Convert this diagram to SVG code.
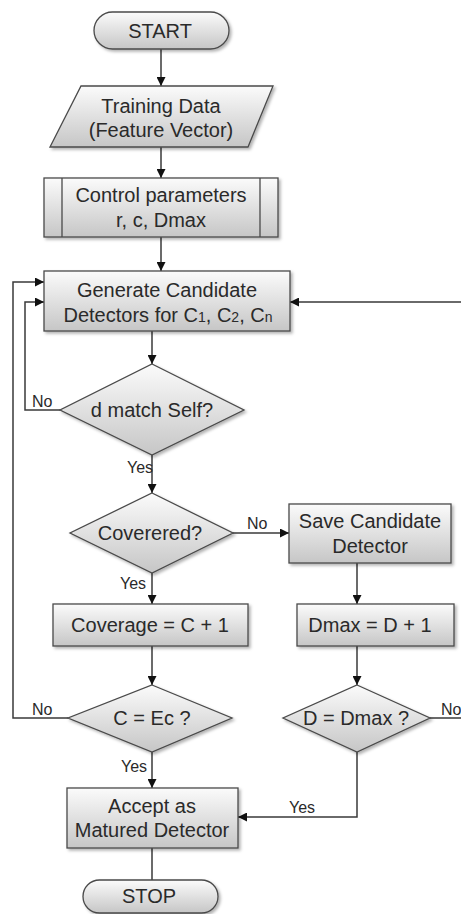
<svg xmlns="http://www.w3.org/2000/svg" width="461" height="914" viewBox="0 0 461 914">
<defs>
<linearGradient id="g" x1="0" y1="0" x2="0" y2="1">
<stop offset="0" stop-color="#fbfbfb"/>
<stop offset="1" stop-color="#c6c6c6"/>
</linearGradient>
<filter id="sh" x="-10%" y="-10%" width="125%" height="130%">
<feDropShadow dx="2" dy="2" stdDeviation="1.5" flood-color="#000" flood-opacity="0.3"/>
</filter>
<marker id="ah" viewBox="0 0 10 10" refX="10" refY="5" markerWidth="9" markerHeight="9" markerUnits="userSpaceOnUse" orient="auto">
<path d="M0,0 L10,5 L0,10 z" fill="#111"/>
</marker>
<style>
.s{fill:url(#g);stroke:#4a4a4a;stroke-width:1.3;filter:url(#sh)}
.il{fill:none;stroke:#4a4a4a;stroke-width:1.3}
.t{font-family:"Liberation Sans",Arial,sans-serif;font-size:20px;fill:#2a2a2a;text-anchor:middle}
.l{font-family:"Liberation Sans",Arial,sans-serif;font-size:16px;fill:#2a2a2a}
.c{fill:none;stroke:#3a3a3a;stroke-width:1.5}
.a{marker-end:url(#ah)}
.sub{font-size:14px}
</style>
</defs>
<rect width="461" height="914" fill="#fff"/>

<g id="connectors">
<path class="c a" d="M161,49 V86"/>
<path class="c a" d="M161,147 V178"/>
<path class="c a" d="M161,237 V271"/>
<path class="c a" d="M152,331 V364"/>
<path class="c a" d="M60,410 H25 V302 H44"/>
<path class="c a" d="M152,455 V493"/>
<path class="c a" d="M233,533 H289"/>
<path class="c a" d="M152,573 V604"/>
<path class="c a" d="M357,563 V604"/>
<path class="c a" d="M152,646 V685"/>
<path class="c a" d="M357,646 V685"/>
<path class="c a" d="M68,718 H13 V282 H44"/>
<path class="c a" d="M430,718 H470 V302 H290"/>
<path class="c a" d="M152,752 V788"/>
<path class="c a" d="M357,752 V817 H238"/>
<path class="c" d="M152,848 V880"/>
<text class="l" x="32" y="407">No</text>
<text class="l" x="127" y="473">Yes</text>
<text class="l" x="247" y="529">No</text>
<text class="l" x="120" y="589">Yes</text>
<text class="l" x="32" y="715">No</text>
<text class="l" x="441" y="715">No</text>
<text class="l" x="121" y="772">Yes</text>
<text class="l" x="289" y="813">Yes</text>
</g>

<g id="start">
<rect class="s" x="94" y="12" width="135" height="37" rx="18.5"/>
<text class="t" x="160" y="38">START</text>
</g>

<g id="training">
<polygon class="s" points="81,86 273,86 248,147 50,147"/>
<text class="t" x="161" y="113">Training Data</text>
<text class="t" x="161" y="137">(Feature Vector)</text>
</g>

<g id="control">
<rect class="s" x="44" y="178" width="234" height="59"/>
<path class="il" d="M62,178 V237 M260,178 V237"/>
<text class="t" x="161" y="202">Control parameters</text>
<text class="t" x="161" y="227">r, c, Dmax</text>
</g>

<g id="generate">
<rect class="s" x="44" y="271" width="246" height="60"/>
<text class="t" x="167" y="297">Generate Candidate</text>
<text class="t" x="168" y="322">Detectors for C<tspan class="sub">1</tspan>, C<tspan class="sub">2</tspan>, C<tspan class="sub">n</tspan></text>
</g>

<g id="dmatch">
<polygon class="s" points="152,364 244,410 152,455 60,410"/>
<text class="t" x="152" y="417">d match Self?</text>
</g>

<g id="covered">
<polygon class="s" points="152,493 233,533 152,573 70,533"/>
<text class="t" x="150" y="540">Coverered?</text>
</g>

<g id="save">
<rect class="s" x="289" y="504" width="162" height="59"/>
<text class="t" x="370" y="528">Save Candidate</text>
<text class="t" x="370" y="553">Detector</text>
</g>

<g id="coverage">
<rect class="s" x="53" y="604" width="195" height="42"/>
<text class="t" x="150" y="632">Coverage = C + 1</text>
</g>

<g id="dmaxinc">
<rect class="s" x="297" y="604" width="157" height="42"/>
<text class="t" x="370" y="632">Dmax = D + 1</text>
</g>

<g id="cec">
<polygon class="s" points="152,685 232,718 152,752 68,718"/>
<text class="t" x="152" y="725">C = Ec ?</text>
</g>

<g id="ddmax">
<polygon class="s" points="357,685 430,718 357,752 283,718"/>
<text class="t" x="356" y="725">D = Dmax ?</text>
</g>

<g id="accept">
<rect class="s" x="67" y="788" width="171" height="60"/>
<text class="t" x="152" y="813">Accept as</text>
<text class="t" x="152" y="837">Matured Detector</text>
</g>

<g id="stop">
<rect class="s" x="83" y="880" width="135" height="33" rx="16.5"/>
<text class="t" x="149" y="903">STOP</text>
</g>
</svg>
